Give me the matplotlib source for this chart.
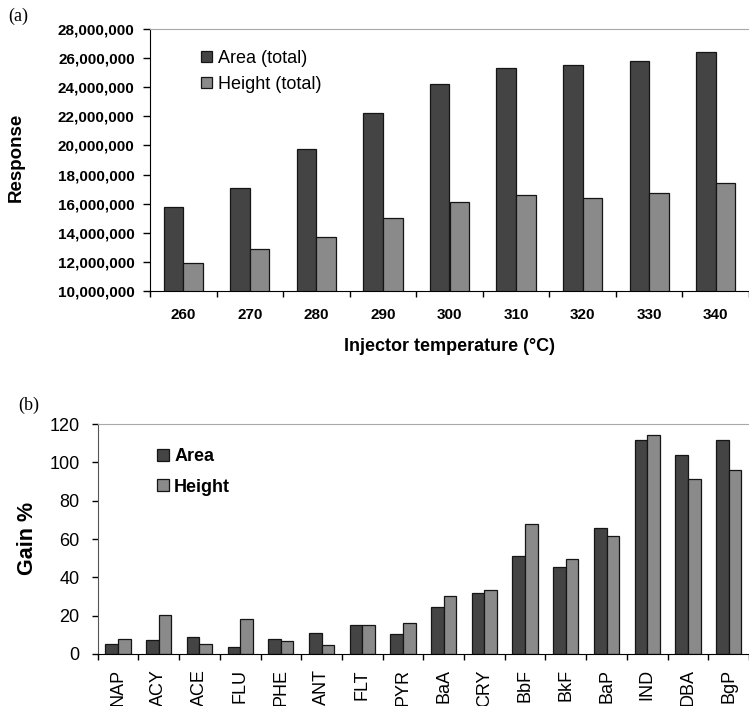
import numpy as np
import matplotlib
matplotlib.use("Agg")
import matplotlib.pyplot as plt
from matplotlib.ticker import FuncFormatter

plt.rcParams['font.family'] = ['Liberation Sans', 'DejaVu Sans']

# panel (a): response vs injector temperature
temps = ['260', '270', '280', '290', '300', '310', '320', '330', '340']
area_total = [15.75e6, 17.1e6, 19.78e6, 22.2e6, 24.2e6, 25.34e6, 25.5e6, 25.8e6, 26.4e6]
height_total = [11.9e6, 12.9e6, 13.73e6, 15.0e6, 16.1e6, 16.6e6, 16.4e6, 16.7e6, 17.4e6]

# panel (b): gain % per compound
compounds = ['NAP', 'ACY', 'ACE', 'FLU', 'PHE', 'ANT', 'FLT', 'PYR', 'BaA',
             'CRY', 'BbF', 'BkF', 'BaP', 'IND', 'DBA', 'BgP']
gain_area = [5, 7.5, 8.7, 3.8, 8, 10.9, 15.1, 10.4, 24.5,
             31.7, 51.2, 45.6, 65.7, 111.5, 104, 111.5]
gain_height = [8, 20.1, 5, 18.4, 6.8, 4.5, 15.1, 16, 30.5,
               33.6, 67.6, 49.4, 61.6, 114.4, 91.4, 96.2]

dark = '#444444'
light = '#8a8a8a'
edge = '#151515'

fig = plt.figure(figsize=(7.49, 7.06), dpi=100)

# ---- (a)
ax1 = fig.add_axes([150/749, 1-291/706, 599/749, 262/706])
x = np.arange(len(temps))
w = 0.295
ax1.bar(x - w/2, area_total, w, color=dark, edgecolor=edge, linewidth=0.9, label='Area (total)')
ax1.bar(x + w/2, height_total, w, color=light, edgecolor=edge, linewidth=0.9, label='Height (total)')
ax1.set_ylim(10e6, 28e6)
ax1.set_xlim(-0.5, -0.5 + 599/67)
ax1.set_yticks(np.arange(10e6, 28e6 + 1, 2e6))
ax1.yaxis.set_major_formatter(FuncFormatter(lambda v, p: f'{int(v):,}'))
ax1.set_xticks(x)
ax1.set_xticklabels(temps)
ax1.set_xticks(np.arange(-0.5, len(temps), 1), minor=True)
ax1.tick_params(axis='x', which='major', length=0, pad=12, labelsize=11)
ax1.tick_params(axis='x', which='minor', length=4, width=1, direction='out')
ax1.tick_params(axis='y', length=5, width=1, pad=6, labelsize=11)
for lab in ax1.get_xticklabels() + ax1.get_yticklabels():
    lab.set_fontweight('bold')
ax1.spines['right'].set_visible(False)
ax1.spines['top'].set_color('#a8a8a8')
ax1.set_ylabel('Response', fontsize=13.5, fontweight='bold')
ax1.yaxis.set_label_coords(-0.209, 0.51)
ax1.set_xlabel('Injector temperature (°C)', fontsize=13, fontweight='bold')
ax1.xaxis.set_label_coords(0.5, -0.178)
ax1.legend(loc='upper left', bbox_to_anchor=(201/749, 1-50/706), bbox_transform=fig.transFigure,
           frameon=False, fontsize=13, borderpad=0, borderaxespad=0,
           handlelength=0.6, handleheight=0.6, handletextpad=0.35, labelspacing=0.5)

# ---- (b)
ax2 = fig.add_axes([97.7/749, 1-654/706, (749-97.7)/749, 230/706])
xb = np.arange(len(compounds))
wb = 0.31
ax2.bar(xb - wb/2, gain_area, wb, color=dark, edgecolor=edge, linewidth=0.9, label='Area')
ax2.bar(xb + wb/2, gain_height, wb, color=light, edgecolor=edge, linewidth=0.9, label='Height')
ax2.set_ylim(0, 120)
ax2.set_xlim(-0.5, -0.5 + 651.3/41.4)
ax2.set_yticks(np.arange(0, 121, 20))
ax2.set_xticks(xb)
ax2.set_xticklabels(compounds, rotation=90)
ax2.set_xticks(np.arange(-0.5, len(compounds), 1), minor=True)
ax2.tick_params(axis='x', which='major', length=0, pad=11, labelsize=13)
ax2.tick_params(axis='x', which='minor', length=4, width=1, direction='out')
ax2.tick_params(axis='y', length=4, width=1, pad=9, labelsize=13)
ax2.spines['right'].set_visible(False)
ax2.spines['top'].set_color('#a8a8a8')
ax2.spines['left'].set_color('#555555')
ax2.set_ylabel('Gain %', fontsize=15.5, fontweight='bold')
ax2.yaxis.set_label_coords(-0.092, 0.504)
ax2.legend(loc='upper left', bbox_to_anchor=(157/749, 1-448/706), bbox_transform=fig.transFigure,
           frameon=False, prop={'size': 13, 'weight': 'bold'}, borderpad=0, borderaxespad=0,
           handlelength=0.65, handleheight=0.65, handletextpad=0.3, labelspacing=0.75)

fig.text(8/749, 1-16/706, '(a)', family='Liberation Serif', fontsize=13, va='center', ha='left')
fig.text(18/749, 1-405/706, '(b)', family='Liberation Serif', fontsize=13, va='center', ha='left')

fig.savefig('out.png', dpi=100)
